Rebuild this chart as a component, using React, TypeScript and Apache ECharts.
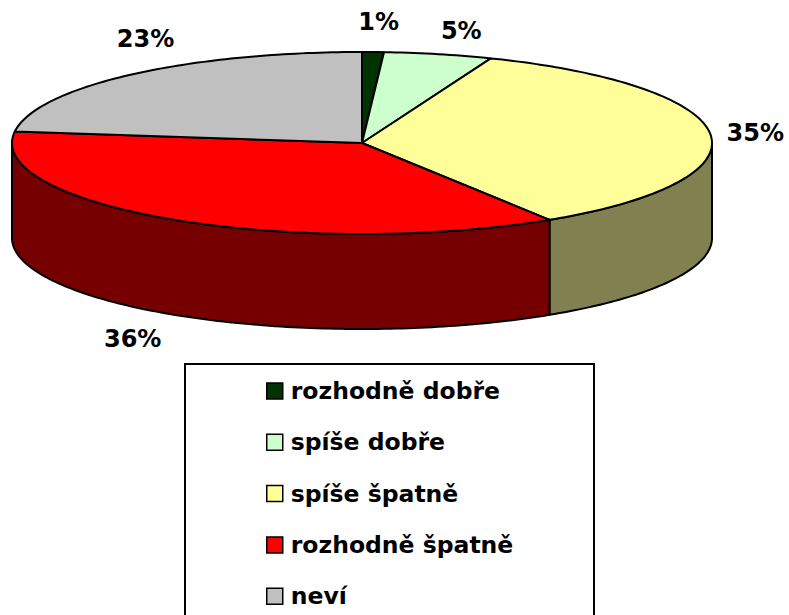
import React, { useEffect, useRef } from "react";
import * as echarts from "echarts";

const categories = ["rozhodně dobře", "spíše dobře", "spíše špatně", "rozhodně špatně", "neví"];
const values = [1, 5, 35, 36, 23];
const topColors = ["#003300", "#CCFFCC", "#FFFF99", "#FF0000", "#C0C0C0"];
const sideColors = ["#001A00", "#668066", "#808050", "#760000", "#606060"];
const labelShift = [[4, -1], [12, 5], [-5, 1], [-15, 0], [48, -14]];

const CX = 362, CY = 143, RX = 350, RY = 91, DEPTH = 95, LX = 400, LY = 120;

export default function App() {
  const ref = useRef<HTMLDivElement>(null);
  useEffect(() => {
    const chart = echarts.init(ref.current!, null, { renderer: "svg" });
    const total = values.reduce((a, b) => a + b, 0);
    const starts: number[] = [];
    let acc = 0;
    values.forEach((v) => { starts.push(acc); acc += v; });
    const pt = (deg: number, dy: number) => {
      const r = (deg * Math.PI) / 180;
      return [CX + RX * Math.sin(r), CY - RY * Math.cos(r) + dy];
    };
    const arc = (a0: number, a1: number, dy: number) => {
      const n = Math.max(2, Math.ceil(Math.abs(a1 - a0)));
      const pts: number[][] = [];
      for (let k = 0; k <= n; k++) pts.push(pt(a0 + ((a1 - a0) * k) / n, dy));
      return pts;
    };
    const series = categories.map((name, i) => ({
      type: "custom",
      name,
      coordinateSystem: "none",
      data: [[values[i]]],
      itemStyle: { color: topColors[i] },
      renderItem: (params: any, api: any) => {
        const v = api.value(0);
        const a0 = (starts[i] / total) * 360;
        const a1 = a0 + (v / total) * 360;
        const children: any[] = [];
        const s = Math.max(a0, 90), e = Math.min(a1, 270);
        if (e > s) {
          const pts = [...arc(s, e, 0), ...arc(e, s, DEPTH)];
          children.push({
            type: "polygon",
            shape: { points: pts },
            style: { fill: sideColors[i], stroke: "#000", lineWidth: 2, lineJoin: "round" },
          });
        }
        const top = [[CX, CY], ...arc(a0, a1, 0)];
        children.push({
          type: "polygon",
          shape: { points: top },
          style: { fill: topColors[i], stroke: "#000", lineWidth: 2, lineJoin: "round" },
        });
        const m = (((a0 + a1) / 2) * Math.PI) / 180;
        const lx = CX + LX * Math.sin(m) + labelShift[i][0];
        const ly = CY - LY * Math.cos(m) + (Math.cos(m) < 0 ? DEPTH : 0) + labelShift[i][1];
        children.push({
          type: "text",
          x: lx,
          y: ly,
          style: {
            text: v + "%",
            fill: "#000",
            fontSize: 24,
            fontWeight: "bold",
            fontFamily: "DejaVu Sans",
            align: "center",
            verticalAlign: "middle",
          },
        });
        return { type: "group", children };
      },
    }));
    chart.setOption({
      animation: false,
      backgroundColor: "#fff",
      graphic: [
        {
          type: "rect",
          shape: { x: 185, y: 364, width: 409, height: 300 },
          style: { fill: "#fff", stroke: "#000", lineWidth: 2 },
          z: -1,
        },
      ],
      legend: {
        orient: "vertical",
        left: 266,
        top: 379,
        padding: 0,
        icon: "rect",
        itemWidth: 16,
        itemHeight: 16,
        itemGap: 27.3,
        selectedMode: false,
        itemStyle: { borderColor: "#000", borderWidth: 1.5 },
        textStyle: {
          fontSize: 23.5,
          fontWeight: "bold",
          fontFamily: "DejaVu Sans",
          color: "#000",
          lineHeight: 23,
          padding: [0, 0, 0, 3],
        },
        data: categories,
      },
      series,
    });
    return () => chart.dispose();
  }, []);
  return (
    <div
      ref={ref}
      style={{ position: "fixed", left: 0, top: 0, width: 789, height: 615, background: "#fff" }}
    />
  );
}
